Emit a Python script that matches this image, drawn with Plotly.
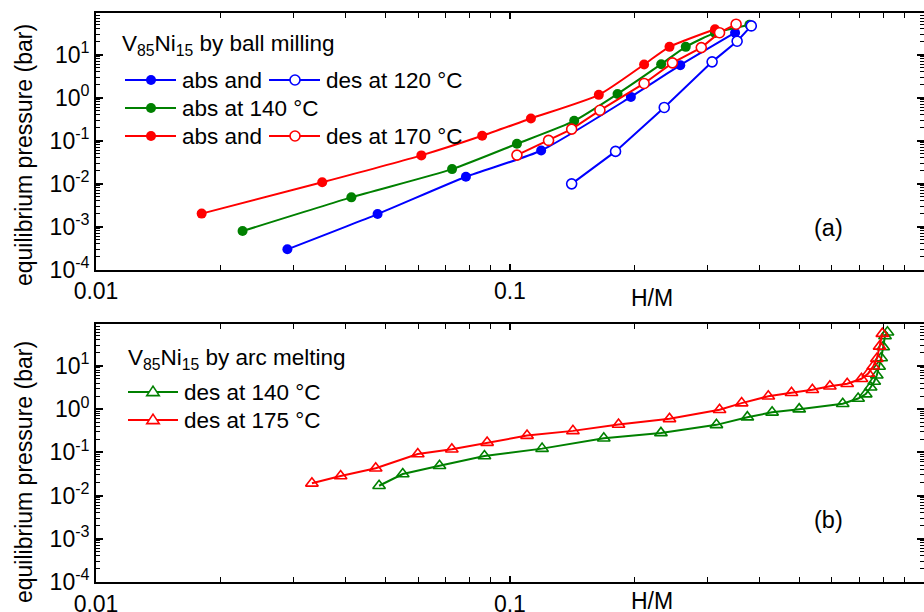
import plotly.graph_objects as go

# ---------------- data ----------------
# (a) V85Ni15 by ball milling
abs120_x = [0.0290, 0.0479, 0.0783, 0.119, 0.196, 0.258, 0.350]
abs120_y = [0.000295, 0.00195, 0.0144, 0.0589, 1.04, 5.70, 32.5]
des120_x = [0.383, 0.354, 0.308, 0.236, 0.180, 0.141]
des120_y = [46.7, 20.6, 6.80, 0.591, 0.0561, 0.00984]
abs140_x = [0.0226, 0.0414, 0.0725, 0.104, 0.143, 0.182, 0.232, 0.266, 0.313, 0.379]
abs140_y = [0.000785, 0.00478, 0.0217, 0.0843, 0.288, 1.22, 6.01, 15.2, 32.1, 49.9]
abs170_x = [0.0180, 0.0352, 0.0611, 0.0857, 0.1124, 0.164, 0.211, 0.243, 0.313]
abs170_y = [0.0020, 0.0107, 0.0453, 0.1294, 0.328, 1.16, 5.92, 15.2, 39.2]
des170_x = [0.352, 0.321, 0.290, 0.247, 0.211, 0.165, 0.141, 0.124, 0.104]
des170_y = [51.2, 32.5, 14.6, 6.45, 2.14, 0.507, 0.185, 0.101, 0.046]

# (b) V85Ni15 by arc melting
arc140_x = [0.0483, 0.0551, 0.0676, 0.0868, 0.1196, 0.1686, 0.2317, 0.3155, 0.3747,
            0.430, 0.500, 0.637, 0.694, 0.724, 0.744, 0.759, 0.770, 0.780, 0.789,
            0.798, 0.806, 0.817]
arc140_y = [0.01686, 0.0315, 0.0491, 0.0824, 0.122, 0.212, 0.282, 0.433, 0.652,
            0.843, 1.00, 1.33, 1.76, 2.23, 3.21, 4.37, 6.08, 9.73, 15.2,
            27.5, 49.4, 59.9]
arc175_x = [0.03324, 0.0390, 0.0474, 0.0599, 0.0724, 0.0881, 0.110, 0.142, 0.183,
            0.243, 0.321, 0.363, 0.421, 0.479, 0.538, 0.593, 0.653, 0.707, 0.734,
            0.755, 0.770, 0.782, 0.794]
arc175_y = [0.01919, 0.0283, 0.0428, 0.0918, 0.118, 0.168, 0.244, 0.314, 0.440,
            0.596, 0.964, 1.38, 1.98, 2.39, 2.80, 3.38, 3.86, 5.05, 6.70,
            9.84, 14.7, 28.3, 55.8]

x_tickvals = [0.01, 0.1, 1]
x_ticktext = ["0.01", "0.1", "1"]
y_tickvals = [1e-4, 1e-3, 1e-2, 1e-1, 1e0, 1e1]
y_ticktext = ["10<sup>-4</sup>", "10<sup>-3</sup>", "10<sup>-2</sup>",
              "10<sup>-1</sup>", "10<sup>0</sup>", "10<sup>1</sup>"]

BLUE = "#0000FF"
GREEN = "#008000"
RED = "#FF0000"
FONT = "Liberation Sans, Arial, sans-serif"

# ---------------- geometry helpers ----------------
W, H = 924, 612
ML, MR, MT, MB = 96, 0, 13, 30
PW = W - ML - MR
PH = H - MT - MB


def PX(px):
    return (px - ML) / PW


def PY(py):
    return (H - MB - py) / PH


fig = go.Figure()


def add(x, y, color, filled, axis, symbol="circle", smooth=False):
    xa, ya = ("x", "y") if axis == 1 else ("x2", "y2")
    if symbol == "circle":
        if filled:
            mk = dict(symbol="circle", size=10, color=color, line=dict(width=0))
        else:
            mk = dict(symbol="circle", size=10, color="white",
                      line=dict(color=color, width=1.6))
    else:
        mk = dict(symbol="triangle-up-open", size=11, color=color,
                  line=dict(color=color, width=1.6))
    fig.add_trace(go.Scatter(
        x=x, y=y, xaxis=xa, yaxis=ya, mode="lines+markers",
        line=dict(color=color, width=2,
                  shape="spline" if smooth else "linear",
                  smoothing=0.6 if smooth else None),
        marker=mk, showlegend=False, hoverinfo="x+y"))


add(abs120_x, abs120_y, BLUE, True, 1, smooth=True)
add(abs140_x, abs140_y, GREEN, True, 1, smooth=True)
add(abs170_x, abs170_y, RED, True, 1, smooth=True)
add(des120_x, des120_y, BLUE, False, 1)
add(des170_x, des170_y, RED, False, 1)

add(arc140_x, arc140_y, GREEN, False, 2, symbol="triangle")
add(arc175_x, arc175_y, RED, False, 2, symbol="triangle")

# ---------------- axes ----------------
minor_x = [m * 10 ** e for e in (-2, -1) for m in range(2, 10)]
minor_y = [m * 10 ** e for e in range(-4, 2) for m in range(2, 10)]

top_dom = [PY(269.5), 1.0]
bot_dom = [0.0, PY(324)]

TICKSZ = 23

common_x = dict(type="log", range=[-2, 0.0005], tickmode="array",
                tickvals=x_tickvals, ticktext=x_ticktext,
                ticks="inside", ticklen=6, tickwidth=1.5, tickcolor="black",
                showline=True, linecolor="black", linewidth=1.8, mirror="ticks",
                showgrid=False, zeroline=False, automargin=False,
                tickfont=dict(family=FONT, size=TICKSZ, color="black"),
                minor=dict(tickmode="array", tickvals=minor_x, ticks="inside",
                           ticklen=5, tickwidth=1.2, tickcolor="black",
                           showgrid=False))
common_y = dict(type="log", range=[-4, 1.97], tickmode="array",
                tickvals=y_tickvals, ticktext=y_ticktext,
                ticks="inside", ticklen=7, tickwidth=1.5, tickcolor="black",
                showline=True, linecolor="black", linewidth=1.8, mirror="ticks",
                showgrid=False, zeroline=False, automargin=False,
                tickfont=dict(family=FONT, size=TICKSZ, color="black"),
                minor=dict(tickmode="array", tickvals=minor_y, ticks="inside",
                           ticklen=4, tickwidth=1.0, tickcolor="black",
                           showgrid=False))

fig.update_layout(
    width=W, height=H,
    margin=dict(l=ML, r=MR, t=MT, b=MB),
    paper_bgcolor="white", plot_bgcolor="white",
    font=dict(family=FONT, color="black"),
    xaxis=dict(common_x, anchor="y", domain=[0, 1]),
    yaxis=dict(common_y, anchor="x", domain=top_dom),
    xaxis2=dict(common_x, anchor="y2", domain=[0, 1]),
    yaxis2=dict(common_y, anchor="x2", domain=bot_dom),
)

# ---------------- annotations ----------------
ann = []


def text(px, py, s, size=23, xanchor="left", angle=0):
    ann.append(dict(x=PX(px), y=PY(py), xref="paper", yref="paper", text=s,
                    showarrow=False, xanchor=xanchor, yanchor="middle",
                    textangle=angle,
                    font=dict(family=FONT, size=size, color="black")))


LEG = 22.5
text(652, 298, "H/M", 23, "center")
text(652, 601, "H/M", 23, "center")
text(828, 228, "(a)", 23.5, "center")
text(828, 520, "(b)", 23.5, "center")
text(24, 155, "equilibrium pressure (bar)", 23, "center", -90)
text(24, 472, "equilibrium pressure (bar)", 23, "center", -90)

text(120, 45, "V<sub>85</sub>Ni<sub>15</sub> by ball milling", LEG)
text(180, 80, "abs and", LEG)
text(324, 80, "des at 120 °C", LEG)
text(180, 108, "abs at 140 °C", LEG)
text(180, 136, "abs and", LEG)
text(324, 136, "des at 170 °C", LEG)

text(126, 359, "V<sub>85</sub>Ni<sub>15</sub> by arc melting", LEG)
text(182, 392, "des at 140 °C", LEG)
text(182, 420, "des at 175 °C", LEG)

fig.update_layout(annotations=ann)

# ---------------- legend glyphs ----------------
shapes = []


def gl_line(x0, x1, py, color):
    shapes.append(dict(type="line", xref="paper", yref="paper",
                       x0=PX(x0), x1=PX(x1), y0=PY(py), y1=PY(py),
                       line=dict(color=color, width=2)))


def gl_circle(cx, cy, color, filled, r=5):
    shapes.append(dict(type="circle", xref="paper", yref="paper",
                       x0=PX(cx - r), x1=PX(cx + r), y0=PY(cy + r), y1=PY(cy - r),
                       fillcolor=color if filled else "white",
                       line=dict(color=color, width=0 if filled else 1.6)))


def gl_tri(cx, cy, color, w=12.5, h=9.5):
    p = "M {},{} L {},{} L {},{} Z".format(
        PX(cx - w / 2), PY(cy + h / 2.6), PX(cx + w / 2), PY(cy + h / 2.6),
        PX(cx), PY(cy - h * 1.6 / 2.6))
    shapes.append(dict(type="path", xref="paper", yref="paper", path=p,
                       fillcolor="white", line=dict(color=color, width=1.6)))


for py, col, second in ((80, BLUE, True), (108, GREEN, False), (136, RED, True)):
    gl_line(125, 176, py, col)
    gl_circle(151, py, col, True)
    if second:
        gl_line(269, 320, py, col)
        gl_circle(295, py, col, False)

for py, col in ((392, GREEN), (420, RED)):
    gl_line(128, 178, py, col)
    gl_tri(153, py, col)

fig.update_layout(shapes=shapes)

# remove the default 8px page margin so the 924x612 figure fills the window
fig.write_html("out.html",
               config={"displayModeBar": False},
               post_script="document.body.style.margin='0';"
                           "document.body.style.overflow='hidden';")
